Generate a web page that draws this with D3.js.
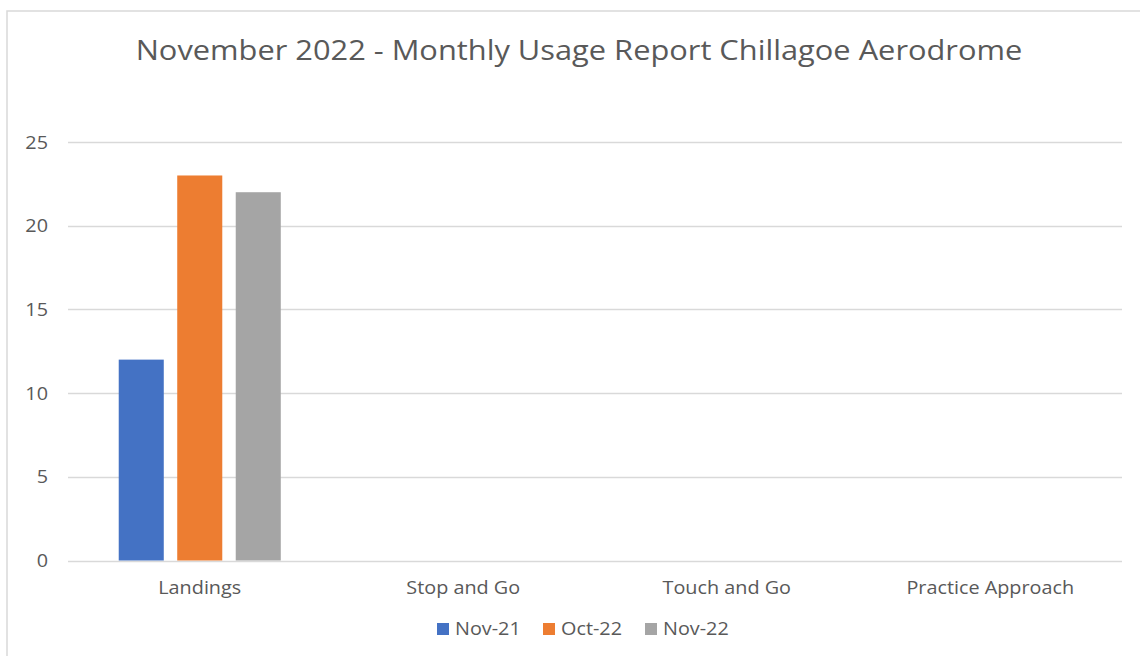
<!DOCTYPE html>
<html><head><meta charset="utf-8">
<script src="https://cdn.jsdelivr.net/npm/d3@7"></script>
<style>html,body{margin:0;padding:0;background:#fff;}svg{display:block;}</style>
</head><body>
<svg id="chart" width="1140" height="656"></svg>
<script>
const title = "November 2022 - Monthly Usage Report Chillagoe Aerodrome";
const categories = ["Landings", "Stop and Go", "Touch and Go", "Practice Approach"];
const seriesNames = ["Nov-21", "Oct-22", "Nov-22"];
const nov21 = [12, 0, 0, 0];
const oct22 = [23, 0, 0, 0];
const nov22 = [22, 0, 0, 0];
const yTicks = [0, 5, 10, 15, 20, 25];
const colors = ["#4472C4", "#ED7D31", "#A5A5A5"];

(function () {
const seriesValues = [nov21, oct22, nov22];
const font = "'Open Sans', sans-serif";
const stretch = 1.1;
const svg = d3.select("#chart");

function widen(sel) {
  sel.each(function () {
    const w = this.getComputedTextLength();
    d3.select(this).attr("textLength", w * stretch).attr("lengthAdjust", "spacingAndGlyphs");
  });
}

// frame
svg.append("rect").attr("x", 7).attr("y", 11).attr("width", 1150).attr("height", 700)
  .attr("fill", "#fff").attr("stroke", "#D9D9D9").attr("stroke-width", 1.5);

const pLeft = 68, pRight = 1122, pTop = 142, pBottom = 560.5;
const x0 = d3.scaleBand().domain(categories).range([pLeft, pRight]).padding(0);
const x1 = d3.scaleBand().domain(seriesNames).range([0, x0.bandwidth()])
  .paddingInner(0.23).paddingOuter(0.867);
const y = d3.scaleLinear().domain([0, 25]).range([pBottom, pTop]);

// gridlines
svg.append("g").selectAll("line").data(yTicks).join("line")
  .attr("x1", pLeft).attr("x2", pRight)
  .attr("y1", d => Math.round(y(d)) + 0.5).attr("y2", d => Math.round(y(d)) + 0.5)
  .attr("stroke", "#D9D9D9").attr("stroke-width", 1.5);

// y labels
svg.append("g").selectAll("text").data(yTicks).join("text")
  .attr("x", 48).attr("y", d => y(d) + 6.5)
  .attr("text-anchor", "end").attr("font-family", font).attr("font-size", 18)
  .attr("fill", "#595959").text(d => d).call(widen);

// bars
const data = [];
categories.forEach((c, i) => seriesNames.forEach((s, j) => data.push({c, s, v: seriesValues[j][i], col: colors[j]})));
svg.append("g").selectAll("rect").data(data.filter(d => d.v > 0)).join("rect")
  .attr("x", d => x0(d.c) + x1(d.s)).attr("width", x1.bandwidth())
  .attr("y", d => y(d.v)).attr("height", d => y(0) - y(d.v))
  .attr("fill", d => d.col);

// category labels
svg.append("g").selectAll("text").data(categories).join("text")
  .attr("x", d => x0(d) + x0.bandwidth() / 2).attr("y", 594)
  .attr("text-anchor", "middle").attr("font-family", font).attr("font-size", 18)
  .attr("fill", "#595959").text(d => d).call(widen);

// title
svg.append("text").attr("x", 579).attr("y", 60).attr("text-anchor", "middle")
  .attr("font-family", font).attr("font-size", 28).attr("fill", "#595959").text(title).call(widen);

// legend
const legendX = [437, 543, 645];
const lg = svg.append("g");
seriesNames.forEach((s, i) => {
  lg.append("rect").attr("x", legendX[i]).attr("y", 623).attr("width", 12).attr("height", 12).attr("fill", colors[i]);
  lg.append("text").attr("x", legendX[i] + 18).attr("y", 635).attr("font-family", font)
    .attr("font-size", 18).attr("fill", "#595959").text(s).call(widen);
});
})();
</script>
</body></html>
